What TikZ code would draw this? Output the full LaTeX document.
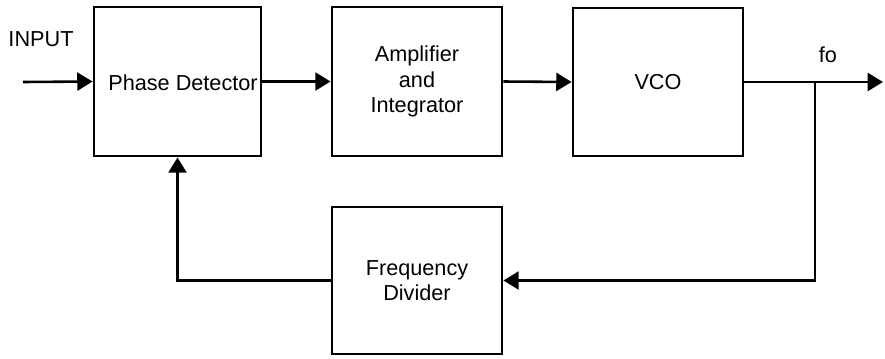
\documentclass[tikz,border=0pt]{standalone}
\usepackage{fontspec}
\setmainfont{Liberation Sans}
\usetikzlibrary{arrows.meta}

\tikzset{
    block/.style = {draw, line width=2.4pt, align=center, inner sep=0pt,
                    font=\fontsize{18.5}{21.5}\selectfont},
    signal/.style = {line width=2.2pt, -{Triangle[length=0.46cm, width=0.54cm]}},
    wire/.style = {line width=2.2pt}
}

\begin{document}
\begin{tikzpicture}[x=0.03cm, y=-0.03cm]
    \useasboundingbox (0,0) rectangle (885,358);

    % forward path
    \node[block, minimum width=167*0.03cm, minimum height=149*0.03cm] (detector) at (177.5,81.5) {};
    \node[font=\fontsize{18.5}{21.5}\selectfont] (detectorlabel) at (183,83) {Phase Detector};
    \node[block, minimum width=170*0.03cm, minimum height=149*0.03cm] (amp) at (417,81.5) {Amplifier\\and\\Integrator};
    \node[block, minimum width=170*0.03cm, minimum height=148*0.03cm] (vco) at (658,82) {VCO};

    % feedback path
    \node[block, minimum width=170*0.03cm, minimum height=147*0.03cm] (divider) at (417,280.5) {Frequency\\Divider};

    % labels
    \node[font=\fontsize{18.5}{21.5}\selectfont] (inlabel) at (41,39) {INPUT};
    \node[font=\fontsize{18.5}{21.5}\selectfont] (outlabel) at (828,55) {fo};

    \coordinate (in) at (23,82);
    \coordinate (branch) at (815,82);
    \coordinate (out) at (883,82);

    \draw[signal] (in) -- (detector.west);
    \draw[signal] (detector.east) -- (amp.west);
    \draw[signal] (amp.east) -- (vco.west);
    \draw[wire] (vco.east) -- (branch);
    \draw[signal] (branch) -- (out);
    \draw[signal] (branch) |- (divider.east);
    \draw[signal] (divider.west) -| (detector.south);
\end{tikzpicture}
\end{document}
